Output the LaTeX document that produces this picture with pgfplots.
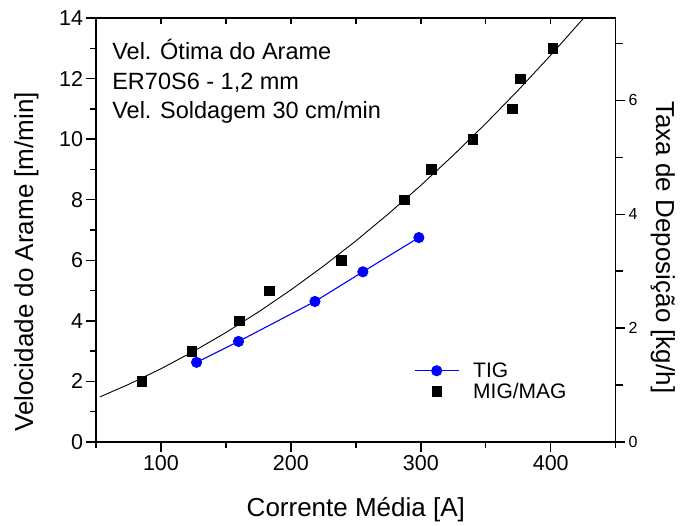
\documentclass[border=0pt]{standalone}
\usepackage{fontspec}
\setmainfont{Liberation Sans}
\usepackage{pgfplots}
\pgfplotsset{compat=1.18}
\begin{document}
\begin{tikzpicture}[x=1pt,y=1pt]
\useasboundingbox (-96,-83) rectangle (586,442);
% main axis: bottom x, left y
\begin{axis}[
  at={(0,0)}, anchor=south west,
  width=519.7pt, height=424pt, scale only axis,
  xmin=50, xmax=450, ymin=0, ymax=14,
  axis x line*=bottom, axis y line*=left,
  axis line style={-, line width=1.5pt},
  xtick={100,200,300,400}, minor xtick={50,150,250,350,450},
  ytick={0,2,4,6,8,10,12,14}, minor ytick={1,3,5,7,9,11,13},
  tick align=outside,
  major tick length=9.5pt, minor tick length=5.5pt,
  every tick/.style={line width=1.4pt, black},
  /pgf/number format/assume math mode=true,
  ticklabel style={font=\fontsize{21.5}{21.5}\selectfont},
  xlabel={Corrente Média [A]},
  ylabel={Velocidade do Arame [m/min]},
  label style={font=\fontsize{26}{26}\selectfont},
  xlabel style={at={(axis description cs:0.5,-0.176)}, anchor=base},
  ylabel style={at={(axis description cs:-0.121,0.425)}, anchor=base},
  legend style={draw=none, fill=none, at={(rel axis cs:0.606,0.197)}, anchor=north west,
    font=\fontsize{21}{27}\selectfont, row sep=0pt,
    /tikz/every odd column/.append style={column sep=12pt}},
  legend cell align=left,
  legend image code/.code={\draw[mark repeat=2,mark phase=2,#1] plot coordinates {(0pt,0pt)(22pt,0pt)(44pt,0pt)};},
]
\addplot[black, line width=0.9pt, forget plot] coordinates {
(53,1.489)(75,1.901)(100,2.419)(125,2.990)(150,3.615)(175,4.292)(200,5.022)(225,5.805)
(250,6.641)(275,7.531)(300,8.473)(325,9.468)(350,10.517)(375,11.618)(400,12.773)(425,13.980)(430,14.22)};
\addplot[blue, line width=1.1pt, mark=*, mark size=5pt, mark options={fill=blue, draw=blue}] coordinates {
(127.4,2.63)(159.7,3.32)(218.5,4.64)(255.4,5.62)(298.5,6.75)};
\addlegendentry{TIG}
\addplot[black, only marks, mark=square*, mark size=4.8pt] coordinates {
(85.2,2.0)(123.6,3.0)(160.4,4.0)(183.3,5.0)(238.8,6.0)(287.2,8.0)(308,9.0)(339.8,10.0)(370.2,11.0)(376.4,12.0)(401.5,13.0)};
\addlegendentry{MIG/MAG}
\node[anchor=base west, inner sep=0pt, font=\fontsize{23.5}{23.5}\selectfont] at (rel axis cs:0.031,0.901) {Vel. Ótima do Arame};
\node[anchor=base west, inner sep=0pt, font=\fontsize{23.5}{23.5}\selectfont] at (rel axis cs:0.031,0.8325) {ER70S6 - 1,2 mm};
\node[anchor=base west, inner sep=0pt, font=\fontsize{23.5}{23.5}\selectfont] at (rel axis cs:0.031,0.764) {Vel. Soldagem 30 cm/min};
\end{axis}
% top x axis (ticks inside)
\begin{axis}[
  at={(0,0)}, anchor=south west,
  width=519.7pt, height=424pt, scale only axis,
  xmin=50, xmax=450, ymin=0, ymax=14,
  axis x line*=top, hide y axis,
  axis line style={-, line width=1.5pt},
  xtick={50,100,...,450}, xticklabels={},
  tick align=inside, major tick length=6.5pt,
  every tick/.style={line width=1.4pt, black},
]
\end{axis}
% right y axis
\begin{axis}[
  at={(0,0)}, anchor=south west,
  width=519.7pt, height=424pt, scale only axis,
  xmin=50, xmax=450, ymin=0, ymax=7.446,
  axis y line*=right, hide x axis,
  axis line style={-, line width=1.5pt},
  ytick={0,2,4,6}, minor ytick={1,3,5,7},
  tick align=outside,
  major tick length=9.5pt, minor tick length=7pt,
  every tick/.style={line width=1.4pt, black},
  /pgf/number format/assume math mode=true,
  yticklabel style={font=\fontsize{16}{16}\selectfont},
  ylabel={Taxa de Deposição [kg/h]},
  ylabel style={font=\fontsize{26}{26}\selectfont, at={(axis description cs:1.0776,0.459)}, anchor=base, rotate=180},
]
\end{axis}
\end{tikzpicture}
\end{document}
